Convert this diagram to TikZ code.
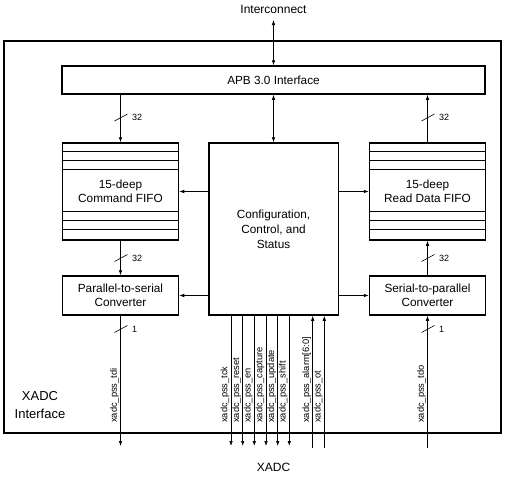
\documentclass[tikz,border=0pt]{standalone}
\usepackage{fontspec}
\setmainfont{Liberation Sans}
\usetikzlibrary{arrows.meta,calc}
\begin{document}
\begin{tikzpicture}[x=1pt,y=-1pt,
  blk/.style={draw,line width=1.5pt,minimum width=116pt,inner sep=0pt,align=center,font=\fontsize{11.8}{14.5}\selectfont},
  wire/.style={line width=0.7pt},
  arr/.style={wire,-{Latex[length=5pt,width=3.6pt]}},
  darr/.style={wire,{Latex[length=5pt,width=3.6pt]}-{Latex[length=5pt,width=3.6pt]}},
  sig/.style={rotate=90,anchor=south west,inner sep=0pt,font=\fontsize{9.3}{10}\selectfont},
  num/.style={anchor=west,inner sep=0pt,font=\fontsize{9}{10}\selectfont},
  slash/.style={line width=0.6pt}
]
\useasboundingbox (0,0) rectangle (507,477);
% outer box
\draw[line width=2.5pt] (4,41) rectangle (501,433);
\node[align=center,font=\fontsize{13}{17.7}\selectfont] (xi) at (40,405) {XADC\\Interface};

\node[font=\fontsize{12}{14}\selectfont] (ic) at (273.5,9) {Interconnect};
\node[font=\fontsize{12}{14}\selectfont] (xadc) at (273.5,467) {XADC};

\node[blk,minimum width=423pt,minimum height=28pt] (apb) at (273.5,80) {APB 3.0 Interface};
\node[blk,minimum height=97pt] (cfifo) at (120.5,191.5) {15-deep\\Command FIFO};
\node[blk,minimum height=39pt] (p2s) at (120.5,295.5) {Parallel-to-serial\\Converter};
\node[blk,minimum width=129.5pt,minimum height=172pt,font=\fontsize{11.8}{15}\selectfont] (cfg) at (273.5,229) {Configuration,\\Control, and\\Status};
\node[blk,minimum height=97pt] (rfifo) at (427.5,191.5) {15-deep\\Read Data FIFO};
\node[blk,minimum height=39pt] (s2p) at (427.5,295.5) {Serial-to-parallel\\Converter};

% FIFO stripes
\foreach \f in {cfifo,rfifo}{
  \foreach \d in {9,18,27}{
    \draw[line width=0.6pt] ($(\f.north west)+(0,\d)$) -- ($(\f.north east)+(0,\d)$);
  }
  \foreach \d in {11,20,29.5}{
    \draw[line width=0.6pt] ($(\f.south west)+(0,-\d)$) -- ($(\f.south east)+(0,-\d)$);
  }
}

% top connections
\coordinate (icb) at (273.5,20);
\draw[darr] (icb) -- (apb.north);
\draw[darr] (apb.south) -- (cfg.north);
\draw[arr] (apb.south -| cfifo) -- (cfifo.north);
\draw[arr] (rfifo.north) -- (apb.south -| rfifo);
\draw[arr] (cfifo.south) -- (p2s.north);
\draw[arr] (s2p.north) -- (rfifo.south);

% side arrows from config
\draw[arr] (cfg.west |- cfifo.east) -- (cfifo.east);
\draw[arr] (cfg.west |- p2s.east) -- (p2s.east);
\draw[arr] (cfg.east |- rfifo.west) -- (rfifo.west);
\draw[arr] (cfg.east |- s2p.west) -- (s2p.west);

% bus slashes
\foreach \x/\y/\t in {120.5/117.5/32, 427.5/117.5/32, 120.5/258/32, 427.5/258/32, 120.5/329/1, 427.5/329/1}{
  \draw[slash] (\x-6,\y+3.5) -- (\x+7,\y-3.5);
  \node[num] at (\x+11.5,\y) {\t};
}

% bottom signals
\coordinate (tdi) at (120.5,446);
\coordinate (tdo) at (427.5,448);
\draw[arr] (p2s.south) -- (tdi);
\draw[arr] (tdo) -- (s2p.south);
\node[sig] at (119,423) {xadc\_pss\_tdi};
\node[sig] at (426,423) {xadc\_pss\_tdo};

\foreach \x/\n in {231/tck,242.7/reset,254.3/en,266/capture,277.7/update,289.3/shift}{
  \coordinate (s\n) at (\x,446);
  \draw[arr] (cfg.south -| s\n) -- (s\n);
  \node[sig] at (\x-1.5,423) {xadc\_pss\_\n};
}
\foreach \x/\n in {312.7/alarm[6:0],324.3/ot}{
  \coordinate (u) at (\x,448);
  \draw[arr] (u) -- (cfg.south -| u);
  \node[sig] at (\x-1.5,423) {xadc\_pss\_\n};
}
\end{tikzpicture}
\end{document}
